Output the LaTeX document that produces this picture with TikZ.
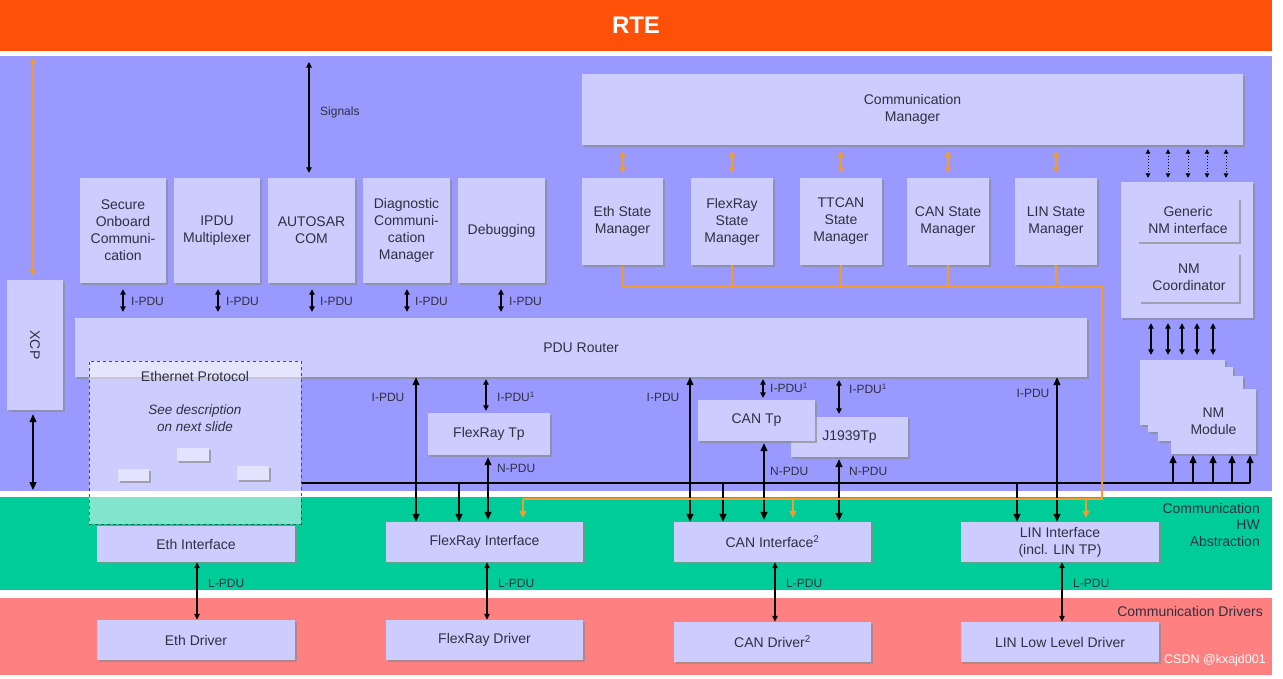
\documentclass[tikz,border=0pt]{standalone}
\usepackage{fontspec}
\setmainfont{Liberation Sans}
\usetikzlibrary{arrows.meta,shadows,calc}
\definecolor{rtec}{HTML}{FF5009}
\definecolor{bluec}{HTML}{9999FF}
\definecolor{greenc}{HTML}{00CC99}
\definecolor{pinkc}{HTML}{FF8080}
\definecolor{boxc}{HTML}{CCCCFF}
\definecolor{orc}{HTML}{F59B2D}
\definecolor{txtc}{HTML}{303040}
\newcommand\bx[7][]{\node[box,#1,minimum width={#5-#3},minimum height={#6-#4}] (#2) at ({(#3+#5)/2},{(#4+#6)/2}) {#7};}
\begin{document}
\begin{tikzpicture}[x=1pt,y=-1pt,
  box/.style={fill=boxc,draw=none,text=txtc,align=center,inner sep=0pt,
    font=\fontsize{14}{17}\selectfont,
    drop shadow={shadow xshift=1.8pt,shadow yshift=-1.8pt,fill=black!45,opacity=.7}},
  lbl/.style={text=txtc,font=\fontsize{12}{14}\selectfont,inner sep=0pt},
  arr/.style={draw=black,line width=1.3pt,>={Triangle[length=8pt,width=7pt]},<->},
  darr/.style={draw=black,line width=1.3pt,>={Triangle[length=8pt,width=7pt]},->},
  sarr/.style={draw=black,line width=1.2pt,>={Triangle[length=5.5pt,width=5.5pt]},<->},
  oarr/.style={draw=orc,line width=1.3pt,>={Triangle[length=6pt,width=6pt]},<->},
  oline/.style={draw=orc,line width=1.2pt},
  odarr/.style={draw=orc,line width=1.2pt,>={Triangle[length=7pt,width=7pt]},->},
  dotarr/.style={draw=black,line width=1pt,dotted,>={Triangle[length=4.5pt,width=4.5pt]},<->},
  bus/.style={draw=black,line width=1.3pt}]
\useasboundingbox (0,0) rectangle (1283,678);
\fill[white] (0,0) rectangle (1283,678);
% bands
\fill[rtec] (0,0) rectangle (1272,51);
\node[text=white,font=\fontsize{24}{26}\selectfont\bfseries] (rte) at (636,25) {RTE};
\fill[bluec] (0,56) rectangle (1272,491);
\fill[greenc] (0,497) rectangle (1272,590);
\fill[pinkc] (0,598) rectangle (1272,675);
\node[text=txtc,align=right,anchor=north east,font=\fontsize{14}{16.5}\selectfont,inner sep=0pt] (hwl) at (1260,503) {Communication\\HW\\Abstraction};
\node[text=txtc,anchor=east,font=\fontsize{14}{15}\selectfont,inner sep=0pt] (drl) at (1263,611) {Communication Drivers};

% communication manager and state managers
\bx{cm}{582}{74}{1243}{145}{Communication\\Manager}
\bx{esm}{582}{178}{663}{265}{Eth State\\Manager}
\bx{fsm}{691}{178}{773}{265}{FlexRay\\State\\Manager}
\bx{tsm}{800}{178}{882}{265}{TTCAN\\State\\Manager}
\bx{csm}{907}{178}{989}{265}{CAN State\\Manager}
\bx{lsm}{1015}{178}{1097}{265}{LIN State\\Manager}
\foreach \n in {esm,fsm,tsm,csm,lsm}{
  \draw[oarr,shorten <=5pt,shorten >=6pt] (\n.north) -- (\n.north |- cm.south);
}
\coordinate (ob1) at (1102,287);
\coordinate (ob2) at (1102,499);
\foreach \n in {fsm,tsm,csm,lsm}{
  \draw[oline] (\n.south) -- (\n.south |- ob1);
}

% upper modules
\bx{soc}{80}{178}{166}{283}{Secure\\Onboard\\Communi-\\cation}
\bx{ipdu}{174}{178}{260}{283}{IPDU\\Multiplexer}
\bx{com}{268}{178}{355}{283}{AUTOSAR\\COM}
\bx{dcm}{363}{178}{450}{283}{Diagnostic\\Communi-\\cation\\Manager}
\bx{dbg}{458}{178}{545}{283}{Debugging}
\bx{pdur}{75}{318}{1087}{377}{PDU Router}

\foreach \xx/\m in {123/soc,218/ipdu,312/com,407/dcm,501/dbg}{
  \draw[sarr,shorten <=6pt,shorten >=6pt] (\xx,0 |- \m.south) -- (\xx,0 |- pdur.north);
  \node[lbl,anchor=west] (ip\m) at (\xx+8,301) {I-PDU};
}
\coordinate (sigtop) at (309,62);
\draw[sarr,shorten >=5pt] (sigtop) -- (sigtop |- com.north);
\node[lbl,anchor=west] (sig) at (320,112) {Signals};

% XCP
\bx{xcp}{7}{280}{63}{410}{\rotatebox{-90}{XCP}}
\coordinate (xtop) at (33,58);
\coordinate (xbot) at (33,490);
\draw[oarr,shorten >=4pt] (xtop) -- (xtop |- xcp.north);
\draw[arr,shorten <=4pt] (xtop |- xcp.south) -- (xbot);

% interfaces and drivers
\bx{ethi}{97}{526}{295}{562}{Eth Interface}
\bx{fri}{386}{522}{583}{562}{FlexRay Interface}
\bx{cani}{674}{522}{871}{562}{CAN Interface\textsuperscript{2}}
\bx{lini}{961}{522}{1159}{562}{LIN Interface\\(incl. LIN TP)}
\bx{ethd}{97}{620}{295}{660}{Eth Driver}
\bx{frd}{386}{620}{583}{660}{FlexRay Driver}
\bx{cand}{674}{622}{871}{662}{CAN Driver\textsuperscript{2}}
\bx{lind}{961}{622}{1159}{662}{LIN Low Level Driver}
\foreach \xx/\a/\b in {197/ethi/ethd,487/fri/frd,775/cani/cand,1062/lini/lind}{
  \draw[draw=black,line width=1.1pt,>={Triangle[length=6pt,width=5.5pt]},<->] (\xx,0 |- \a.south) -- (\xx,0 |- \b.north);
  \node[lbl,anchor=west] (lp\a) at (\xx+11,583) {L-PDU};
}

% transport protocols
\bx{frtp}{428}{413}{550}{455}{FlexRay Tp}
\bx{j19}{791}{417}{908}{457}{\raisebox{-4pt}{J1939Tp}}
\bx{cantp}{698}{400}{815}{441}{CAN Tp}

% bus
\coordinate (busL) at (301,483);
\coordinate (busR) at (1250,483);
\draw[bus] (busL) -- (busR);

% PDU router connections
\draw[arr] (416,0 |- pdur.south) -- (416,0 |- fri.north);
\node[lbl] (l1) at (388,397) {I-PDU};
\draw[sarr,shorten <=2pt,shorten >=2pt] (486,0 |- pdur.south) -- (486,0 |- frtp.north);
\node[lbl,anchor=west] (l2) at (497,397) {I-PDU\textsuperscript{1}};
\draw[arr,shorten <=2pt,shorten >=2pt] (488,0 |- frtp.south) -- (488,0 |- fri.north);
\node[lbl,anchor=west] (l3) at (497,468) {N-PDU};
\draw[darr] (459,0 |- busL) -- (459,0 |- fri.north);

\draw[arr] (690,0 |- pdur.south) -- (690,0 |- cani.north);
\node[lbl] (l4) at (663,397) {I-PDU};
\draw[sarr,shorten <=2pt,shorten >=2pt] (763,0 |- pdur.south) -- (763,0 |- cantp.north);
\node[lbl,anchor=west] (l5) at (770,388) {I-PDU\textsuperscript{1}};
\draw[arr,shorten <=2pt,shorten >=2pt] (764,0 |- cantp.south) -- (764,0 |- cani.north);
\node[lbl,anchor=west] (l6) at (770,471) {N-PDU};
\draw[sarr,shorten <=3pt,shorten >=3pt] (839,0 |- pdur.south) -- (839,0 |- j19.north);
\node[lbl,anchor=west] (l7) at (849,389) {I-PDU\textsuperscript{1}};
\draw[arr,shorten <=2pt,shorten >=1pt] (839,0 |- j19.south) -- (839,0 |- cani.north);
\node[lbl,anchor=west] (l8) at (849,471) {N-PDU};
\draw[darr] (723,0 |- busL) -- (723,0 |- cani.north);

\draw[arr] (1057,0 |- pdur.south) -- (1057,0 |- lini.north);
\node[lbl] (l9) at (1033,393) {I-PDU};
\draw[darr] (1017,0 |- busL) -- (1017,0 |- lini.north);

% orange path
\draw[oline] (esm.south) -- (esm.south |- ob1) -- (ob1) -- (ob2) -- (523,0 |- ob2);
\draw[odarr,shorten >=4pt] (523,0 |- ob2) -- (523,0 |- fri.north);
\draw[odarr,shorten >=4pt] (793,0 |- ob2) -- (793,0 |- cani.north);
\draw[odarr,shorten >=4pt] (1086,0 |- ob2) -- (1086,0 |- lini.north);

% NM
\bx{nmg}{1121}{182}{1253}{318}{}
\bx{gnm}{1137}{198}{1239}{242}{Generic\\NM interface}
\bx{nmc}{1139}{253}{1239}{302}{NM\\Coordinator}
\bx{nm1}{1140}{360}{1225}{425}{}
\bx{nm2}{1148}{367}{1233}{432}{}
\bx{nm3}{1158}{376}{1243}{441}{}
\bx{nm4}{1171}{389}{1256}{454}{NM\\Module}
\foreach \xx in {1148,1168,1188,1207,1226}{
  \draw[dotarr,shorten <=4pt,shorten >=4pt] (\xx,0 |- cm.south) -- (\xx,0 |- nmg.north);
}
\foreach \xx in {1151,1168,1182,1197,1213}{
  \draw[sarr,shorten <=5pt,shorten >=5pt] (\xx,0 |- nmg.south) -- (\xx,0 |- nm1.north);
}
\foreach \xx in {1173,1193,1213,1232,1250}{
  \draw[darr,shorten >=1pt] (\xx,0 |- busL) -- (\xx,0 |- nm4.south);
}

% Ethernet protocol overlay
\node[draw=black!70,dashed,line width=1pt,fill=white,fill opacity=.5,minimum width=212,minimum height=163,inner sep=0pt] (ethp) at (195,442.5) {};
\node[text=txtc,font=\fontsize{14}{16}\selectfont,inner sep=0pt] (ethpt) at (195,376) {Ethernet Protocol};
\node[text=txtc,font=\fontsize{13.5}{17}\selectfont\itshape,align=center,inner sep=0pt] (ethpd) at (195,418) {See description\\on next slide};
\bx[fill=boxc!55!white]{eb1}{118}{469}{149}{481}{}
\bx[fill=boxc!55!white]{eb2}{177}{448}{209}{461}{}
\bx[fill=boxc!55!white]{eb3}{237}{466}{269}{480}{}

\node[text=white,font=\fontsize{12.5}{14}\selectfont,inner sep=0pt] (wm) at (1215,660) {CSDN @kxajd001};
\end{tikzpicture}
\end{document}
